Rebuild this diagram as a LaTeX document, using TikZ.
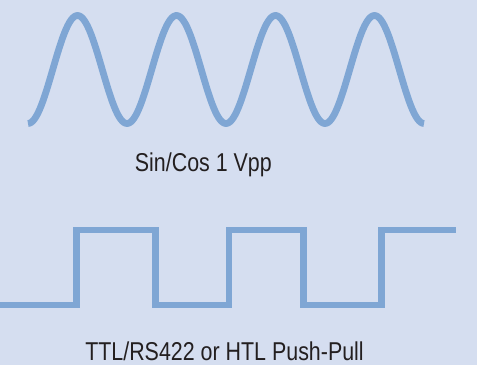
\documentclass[tikz,border=0pt]{standalone}
\usepackage{fontspec}
\newfontfamily\condfont[FakeStretch=0.83]{Liberation Sans}
\definecolor{bgblue}{RGB}{213,222,240}
\definecolor{waveblue}{RGB}{127,166,212}
\definecolor{txt}{RGB}{35,31,32}
\tikzset{
  wave/.style={draw=waveblue, line width=6.8pt},
  lbl/.style={anchor=base, inner sep=0pt, text=txt, font=\condfont\fontsize{25.8}{30}\selectfont}
}
\begin{document}
\begin{tikzpicture}[x=1pt,y=-1pt]
\fill[bgblue] (0,0) rectangle (477,365);
\useasboundingbox (0,0) rectangle (477,365);
% sine wave
\draw[wave, line cap=butt, line join=round]
  plot[domain=28:424, samples=240, variable=\t] ({\t},{69.5+54*cos((\t-28)*3.636364)});
\node[lbl] (sinlabel) at (203.4,171.7) {Sin/Cos 1 Vpp};
% square wave
\draw[wave, line cap=butt, line join=miter]
  (0,305) -- (76.3,305) -- (76.3,230) -- (155.7,230) -- (155.7,305)
  -- (229,305) -- (229,230) -- (303.7,230) -- (303.7,305)
  -- (381.3,305) -- (381.3,230) -- (456,230);
\node[lbl] (sqlabel) at (224.5,360.7) {TTL/RS422 or HTL Push-Pull};
\end{tikzpicture}
\end{document}
